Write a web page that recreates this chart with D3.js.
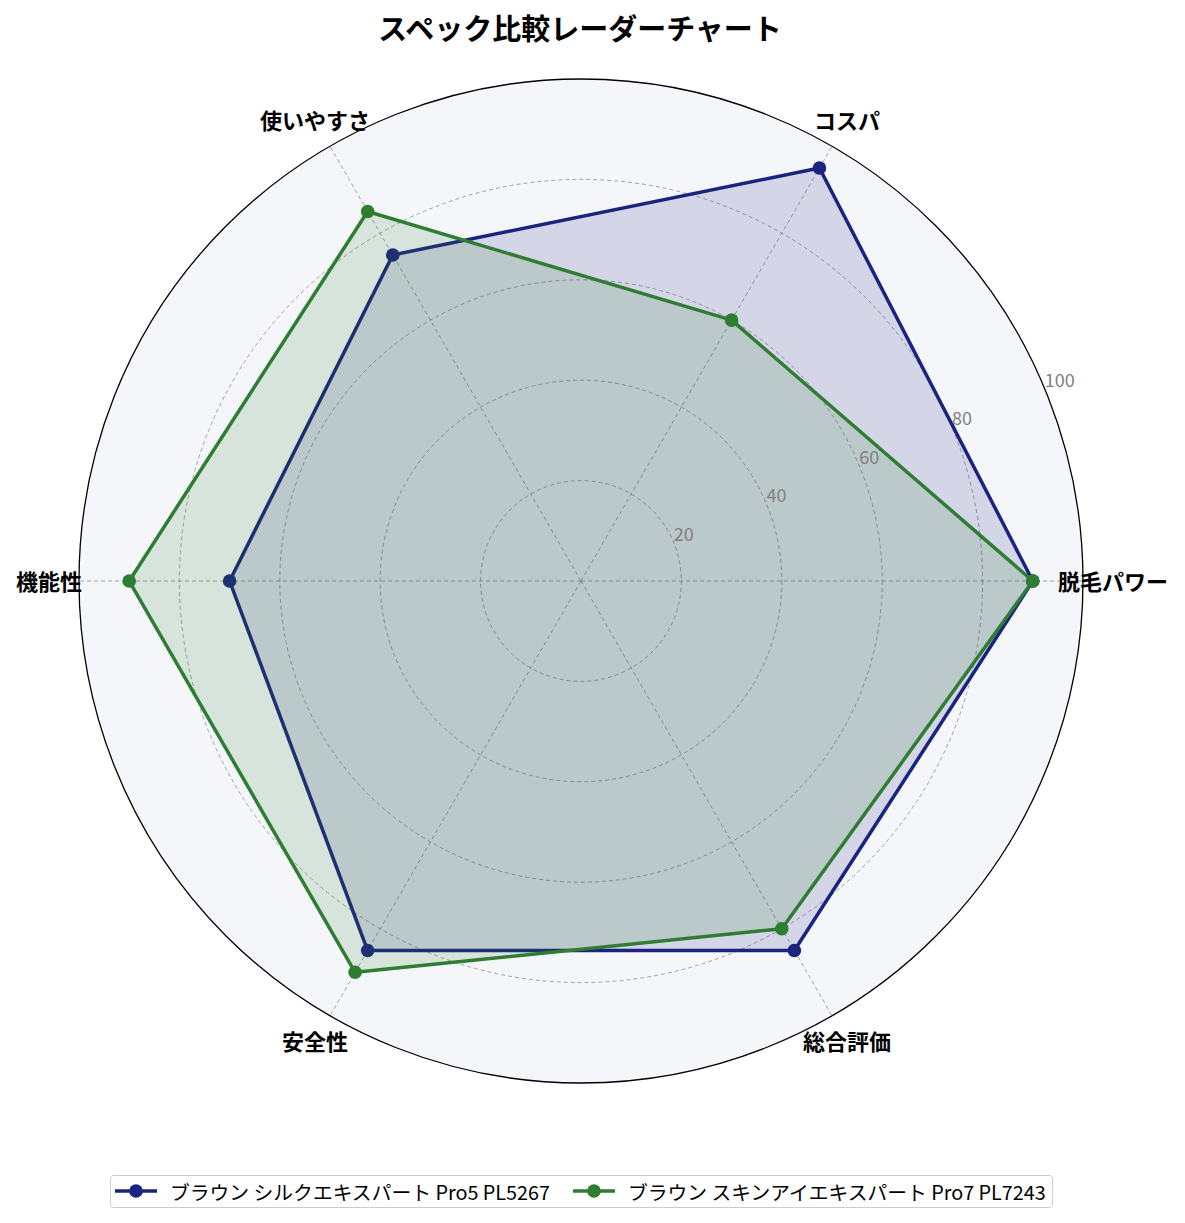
<!DOCTYPE html>
<html>
<head>
<meta charset="utf-8">
<script src="https://cdn.jsdelivr.net/npm/d3@7"></script>
<style>
  html, body { margin: 0; padding: 0; background: #fff; }
  svg text { font-family: "Noto Sans CJK JP", "Noto Sans", sans-serif; }
</style>
</head>
<body>
<svg id="chart" width="1185" height="1223"></svg>
<script>
// chart data
const categories = ['脱毛パワー', 'コスパ', '使いやすさ', '機能性', '安全性', '総合評価'];
const seriesNames = ['ブラウン シルクエキスパート Pro5 PL5267', 'ブラウン スキンアイエキスパート Pro7 PL7243'];
const pro5Values = [90, 95, 75, 70, 85, 85];
const pro7Values = [90, 60, 85, 90, 90, 80];
const radialTicks = [20, 40, 60, 80, 100];

const colors = ['#1a237e', '#2e7d32'];
const series = [pro5Values, pro7Values];

const svg = d3.select('#chart');
const cx = 581, cy = 581;
const outerR = 502;

const r = d3.scaleLinear().domain([0, 100]).range([0, outerR]);
// first axis points right, going counter-clockwise
const angle = d3.scaleLinear().domain([0, categories.length]).range([0, 2 * Math.PI]);

function pt(i, v) {
  const a = angle(i);
  return [cx + r(v) * Math.cos(a), cy - r(v) * Math.sin(a)];
}

// title
svg.append('text')
  .attr('x', 580).attr('y', 27)
  .attr('text-anchor', 'middle')
  .attr('dominant-baseline', 'central')
  .attr('font-size', 29).attr('font-weight', 'bold')
  .text('スペック比較レーダーチャート');

// background of polar area
svg.append('circle')
  .attr('cx', cx).attr('cy', cy).attr('r', outerR)
  .attr('fill', '#f5f6fa');

const grid = svg.append('g');
radialTicks.slice(0, -1).forEach(t => {
  grid.append('circle')
    .attr('cx', cx).attr('cy', cy).attr('r', r(t))
    .attr('fill', 'none')
    .attr('stroke', '#999').attr('stroke-width', 0.9)
    .attr('stroke-dasharray', '4,3');
});
categories.forEach((c, i) => {
  const p = pt(i, 100);
  grid.append('line')
    .attr('x1', cx).attr('y1', cy).attr('x2', p[0]).attr('y2', p[1])
    .attr('stroke', '#999').attr('stroke-width', 0.9)
    .attr('stroke-dasharray', '4,3');
});

// series polygons
const line = d3.line().curve(d3.curveLinearClosed);
series.forEach((vals, s) => {
  const pts = vals.map((v, i) => pt(i, v));
  const g = svg.append('g');
  g.append('path')
    .attr('d', line(pts))
    .attr('fill', colors[s]).attr('fill-opacity', 0.15)
    .attr('stroke', colors[s]).attr('stroke-width', 3.5)
    .attr('stroke-linejoin', 'round');
  g.selectAll('circle').data(pts).enter().append('circle')
    .attr('cx', d => d[0]).attr('cy', d => d[1]).attr('r', 6.8)
    .attr('fill', colors[s]);
});

// outer spine
svg.append('circle')
  .attr('cx', cx).attr('cy', cy).attr('r', outerR)
  .attr('fill', 'none').attr('stroke', '#000').attr('stroke-width', 1.3);

// radial tick labels at 22.5 deg
const rlabA = 22.5 * Math.PI / 180;
radialTicks.forEach(t => {
  svg.append('text')
    .attr('x', cx + r(t) * Math.cos(rlabA))
    .attr('y', cy - r(t) * Math.sin(rlabA) - 2)
    .attr('font-size', 18).attr('fill', '#808080')
    .text(t);
});

// category labels
const labelR = 532;
categories.forEach((c, i) => {
  const a = angle(i);
  svg.append('text')
    .attr('x', cx + labelR * Math.cos(a))
    .attr('y', cy - labelR * Math.sin(a) - 1.5)
    .attr('text-anchor', 'middle')
    .attr('dominant-baseline', 'central')
    .attr('font-size', 22).attr('font-weight', 'bold')
    .text(c);
});

// legend
const legend = svg.append('g');
legend.append('rect')
  .attr('x', 110.5).attr('y', 1175.5).attr('width', 942).attr('height', 32)
  .attr('rx', 3).attr('fill', '#fff').attr('stroke', '#ccc').attr('stroke-width', 1);
const legendX = [115, 573];
seriesNames.forEach((name, s) => {
  const x0 = legendX[s], y0 = 1191;
  legend.append('line')
    .attr('x1', x0).attr('x2', x0 + 42).attr('y1', y0).attr('y2', y0)
    .attr('stroke', colors[s]).attr('stroke-width', 3.5);
  legend.append('circle')
    .attr('cx', x0 + 21).attr('cy', y0).attr('r', 6.8).attr('fill', colors[s]);
  legend.append('text')
    .attr('x', x0 + 55).attr('y', y0)
    .attr('dominant-baseline', 'central')
    .attr('font-size', 19.8).attr('fill', '#000')
    .text(name);
});
</script>
</body>
</html>
